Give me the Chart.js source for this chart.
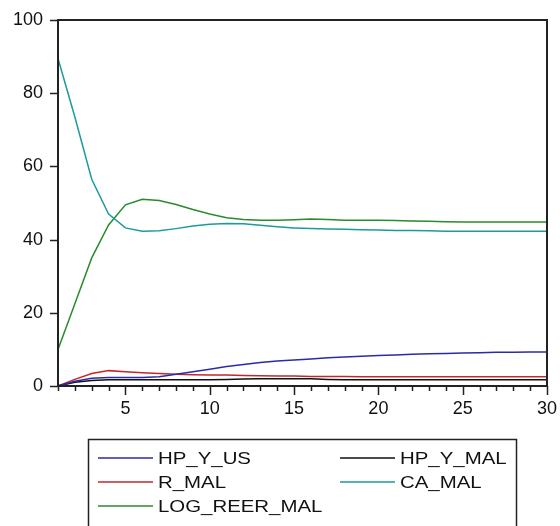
<!DOCTYPE html>
<html>
<head>
<meta charset="utf-8">
<script src="https://cdn.jsdelivr.net/npm/chart.js@4"></script>
<style>
  html, body { margin: 0; padding: 0; background: #fff; }
  #wrap { width: 560px; height: 526px; position: relative; }
</style>
</head>
<body>
<div id="wrap"><canvas id="irf"></canvas></div>
<script>
// Periods on the x axis
const periods = [1, 2, 3, 4, 5, 6, 7, 8, 9, 10, 11, 12, 13, 14, 15,
                 16, 17, 18, 19, 20, 21, 22, 23, 24, 25, 26, 27, 28, 29, 30];
const xTickLabels = [5, 10, 15, 20, 25, 30];
const yTickLabels = [0, 20, 40, 60, 80, 100];

// Series values
const hpYUs = [0, 1.3, 2.1, 2.3, 2.3, 2.3, 2.5, 3.2, 3.9, 4.6,
               5.3, 5.9, 6.4, 6.8, 7.1, 7.4, 7.7, 7.9, 8.1, 8.3,
               8.5, 8.7, 8.8, 8.9, 9.0, 9.1, 9.2, 9.2, 9.3, 9.3];
const hpYMal = [0, 1.0, 1.5, 1.7, 1.7, 1.7, 1.7, 1.7, 1.7, 1.7,
                1.8, 1.9, 2.0, 2.0, 2.0, 2.0, 1.8, 1.7, 1.7, 1.7,
                1.7, 1.7, 1.7, 1.7, 1.7, 1.7, 1.7, 1.7, 1.7, 1.7];
const rMal = [0, 1.8, 3.4, 4.2, 3.9, 3.6, 3.4, 3.2, 3.1, 3.0,
              3.0, 2.9, 2.8, 2.7, 2.7, 2.6, 2.6, 2.6, 2.5, 2.5,
              2.5, 2.5, 2.5, 2.5, 2.5, 2.5, 2.5, 2.5, 2.5, 2.5];
const caMal = [89.5, 73.5, 56.5, 47, 43.2, 42.3, 42.4, 43.0, 43.7, 44.2,
               44.4, 44.3, 43.9, 43.5, 43.2, 43.0, 42.9, 42.8, 42.7, 42.6,
               42.5, 42.5, 42.4, 42.3, 42.3, 42.3, 42.3, 42.3, 42.3, 42.3];
const logReerMal = [10, 22.5, 35, 44, 49.5, 51, 50.7, 49.6, 48.2, 47,
                    46, 45.5, 45.3, 45.3, 45.4, 45.6, 45.5, 45.3, 45.3, 45.3,
                    45.2, 45.1, 45.0, 44.9, 44.8, 44.8, 44.8, 44.8, 44.8, 44.8];

const seriesNames = ['HP_Y_US', 'HP_Y_MAL', 'R_MAL', 'CA_MAL', 'LOG_REER_MAL'];
const seriesColors = ['#2b2ba6', '#111111', '#c4262b', '#1d9a9a', '#2a8a2e'];
const seriesData = [hpYUs, hpYMal, rMal, caMal, logReerMal];

const FONT = '"Liberation Sans", Arial, sans-serif';

// Frame around the plot plus EViews-style tick marks
const framePlugin = {
    id: 'frame',
    afterDatasetsDraw(chart) {
        const ctx = chart.ctx;
        const a = chart.chartArea;
        const xs = chart.scales.x;
        const ys = chart.scales.y;
        ctx.save();
        ctx.strokeStyle = '#222';
        ctx.lineWidth = 2;
        ctx.strokeRect(a.left, a.top, a.right - a.left, a.bottom - a.top);
        ctx.lineWidth = 1.5;
        ctx.beginPath();
        periods.forEach((p, i) => {
            const x = Math.round(xs.getPixelForValue(i)) + 0.5;
            const len = (p % 5 === 0) ? 9 : 5;
            ctx.moveTo(x, a.bottom);
            ctx.lineTo(x, a.bottom + len);
        });
        yTickLabels.forEach(v => {
            const y = Math.round(ys.getPixelForValue(v)) + 0.5;
            ctx.moveTo(a.left, y);
            ctx.lineTo(a.left - 8, y);
        });
        ctx.stroke();
        ctx.restore();
    }
};

// Boxed two-column legend under the chart
const legendPlugin = {
    id: 'boxLegend',
    afterDraw(chart) {
        const ctx = chart.ctx;
        ctx.save();
        ctx.strokeStyle = '#222';
        ctx.lineWidth = 1.5;
        ctx.strokeRect(88.5, 439.5, 428, 100);
        ctx.font = '17px ' + FONT;
        ctx.textBaseline = 'middle';
        ctx.fillStyle = '#111';
        chart.data.datasets.forEach((ds, i) => {
            const col = i % 2;
            const row = Math.floor(i / 2);
            const y = 458 + row * 24;
            const lx = col === 0 ? 98 : 340;
            ctx.strokeStyle = ds.borderColor;
            ctx.lineWidth = 1.5;
            ctx.beginPath();
            ctx.moveTo(lx, y);
            ctx.lineTo(lx + 55, y);
            ctx.stroke();
            ctx.save();
            ctx.translate(lx + 60, y + 1);
            ctx.scale(1.2, 1);
            ctx.fillText(ds.label, 0, 0);
            ctx.restore();
        });
        ctx.restore();
    }
};

const ctx = document.getElementById('irf').getContext('2d');
new Chart(ctx, {
    type: 'line',
    data: {
        labels: periods,
        datasets: seriesNames.map((name, i) => ({
            label: name,
            data: seriesData[i],
            borderColor: seriesColors[i],
            backgroundColor: seriesColors[i],
            borderWidth: 1.5,
            pointRadius: 0,
            tension: 0,
            fill: false
        }))
    },
    options: {
        responsive: true,
        maintainAspectRatio: false,
        animation: false,
        layout: { padding: { top: 20, right: 13, bottom: 110, left: 0 } },
        plugins: {
            legend: { display: false },
            tooltip: { enabled: false }
        },
        scales: {
            x: {
                type: 'category',
                offset: false,
                grid: { display: false, drawTicks: false },
                border: { display: false },
                ticks: {
                    autoSkip: false,
                    maxRotation: 0,
                    padding: 12,
                    color: '#111',
                    font: { family: FONT, size: 18 },
                    callback: function(val, idx) {
                        const p = periods[idx];
                        return xTickLabels.includes(p) ? String(p) : '';
                    }
                },
                afterFit(scale) {
                    scale.height = 30;
                    scale.paddingLeft = 0;
                    scale.paddingRight = 0;
                }
            },
            y: {
                min: 0,
                max: 100,
                grid: { display: false, drawTicks: false },
                border: { display: false },
                afterBuildTicks(scale) {
                    scale.ticks = yTickLabels.map(v => ({ value: v }));
                },
                ticks: {
                    padding: 15,
                    color: '#111',
                    font: { family: FONT, size: 18 }
                },
                afterFit(scale) {
                    scale.width = 58;
                    scale.paddingTop = 0;
                    scale.paddingBottom = 0;
                }
            }
        }
    },
    plugins: [framePlugin, legendPlugin]
});
</script>
</body>
</html>
